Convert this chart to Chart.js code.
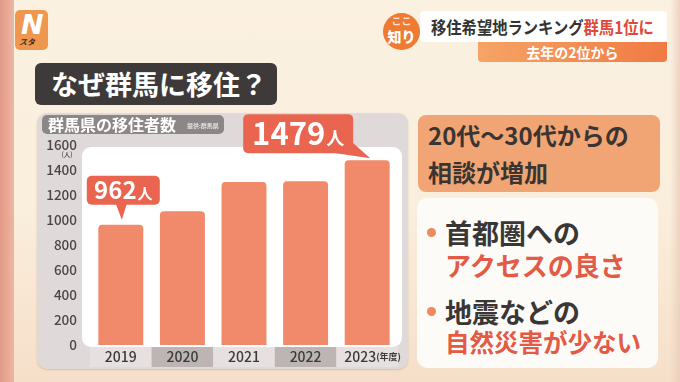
<!DOCTYPE html>
<html lang="ja">
<head>
<meta charset="utf-8">
<script src="https://cdn.jsdelivr.net/npm/chart.js@4/dist/chart.umd.min.js"></script>
<style>
  html,body{margin:0;padding:0;}
  body{width:680px;height:382px;overflow:hidden;font-family:"Noto Sans CJK JP","Noto Sans",sans-serif;}
  #stage{position:relative;width:680px;height:382px;overflow:hidden;
    background:linear-gradient(180deg,#fbf1e1 0%,#faeedc 55%,#f6dfc9 100%);}
  .abs{position:absolute;}
  #strip{left:0;top:0;width:14px;height:382px;background:linear-gradient(90deg,#e29a87,#eeb6a2);}
  #rstrip{right:0;top:0;width:10px;height:382px;background:linear-gradient(90deg,rgba(235,210,190,0),rgba(232,205,185,.8));}
  #logo{left:15px;top:10px;width:33px;height:40px;background:#f0974f;border-radius:5px;}
  #logo .n{position:absolute;left:6px;top:-1px;color:#fff;font:italic 900 27px "DejaVu Sans",sans-serif;}
  #logo .s{position:absolute;left:4px;top:26px;color:#3a2a1e;font:italic 700 8px "Noto Sans CJK JP";}
  #koko{left:383px;top:13px;width:37px;height:37px;border-radius:50%;background:#ee7a33;color:#fff;text-align:center;}
  #koko .a{position:absolute;left:0;width:37px;top:2px;font:700 10px/12px "Noto Sans CJK JP";color:#fde3cf;}
  #koko .b{position:absolute;left:0;width:37px;top:14px;font:900 14px/18px "Noto Sans CJK JP";}
  #hdr{left:420px;top:11px;width:247px;height:31px;background:#fff;border-radius:4px;}
  #hdr .t{position:absolute;left:11px;top:0;white-space:nowrap;font:700 17px/31px "Noto Sans CJK JP";color:#333;transform:scaleX(.9);transform-origin:left center;}
  #hdr .r{color:#e0483a;}
  #sub{left:478px;top:42px;width:189px;height:20px;background:linear-gradient(90deg,#f6a465,#f07a43);border-radius:0 0 4px 4px;color:#fff;text-align:center;font:700 14px/20px "Noto Sans CJK JP";}
  #head{left:35px;top:63px;width:242px;height:42px;background:#3d3a39;border-radius:6px;color:#fff;font:700 27px/42px "Noto Sans CJK JP";padding-left:16px;box-sizing:border-box;white-space:nowrap;}
  #panel{left:37px;top:113px;width:371px;height:256px;background:#dfdad9;border-radius:10px;box-shadow:0 1px 2px rgba(120,90,80,.25);}
  #panel canvas{position:absolute;left:0;top:0;}
  #tag{left:42px;top:115px;width:182px;height:19px;background:#8d8687;border-radius:5px;color:#fff;white-space:nowrap;}
  #tag .t{position:absolute;left:6px;top:0;font:700 16px/19px "Noto Sans CJK JP";}
  #tag .s{position:absolute;left:145px;top:1px;font:500 6px/19px "Noto Sans CJK JP";color:#eee;}
  #box1{left:418px;top:115px;width:242px;height:77px;background:#f2a574;border-radius:8px;}
  #box1 div{position:absolute;left:10px;white-space:nowrap;font:700 24px/30px "Noto Sans CJK JP";color:#3a3532;}
  #box2{left:417px;top:198px;width:241px;height:170px;background:#fdfbf8;border-radius:10px;}
  .ln{position:absolute;white-space:nowrap;font:700 27px/30px "Noto Sans CJK JP";}
  .dk{color:#3a3636;} .rd{color:#e35a46;}
  .dot{position:absolute;width:9px;height:9px;border-radius:50%;background:#ef8a60;}
</style>
</head>
<body>
<div id="stage">
  <div id="strip" class="abs"></div>
  <div id="rstrip" class="abs"></div>
  <div id="logo" class="abs"><span class="n">N</span><span class="s">スタ</span></div>
  <div id="koko" class="abs"><div class="a">ここ</div><div class="b">知り</div></div>
  <div id="hdr" class="abs"><div class="t">移住希望地ランキング<span class="r">群馬1位に</span></div></div>
  <div id="sub" class="abs">去年の2位から</div>
  <div id="head" class="abs">なぜ群馬に移住？</div>
  <div id="panel" class="abs"><canvas id="c" width="371" height="256"></canvas></div>
  <div id="tag" class="abs"><span class="t">群馬県の移住者数</span><span class="s">提供:群馬県</span></div>
  <div id="box1" class="abs"><div style="top:5px">20代〜30代からの</div><div style="top:42px">相談が増加</div></div>
  <div id="box2" class="abs">
    <div class="dot" style="left:10px;top:30px"></div>
    <div class="ln dk" style="left:28px;top:20px">首都圏への</div>
    <div class="ln rd" style="left:28px;top:52px;font-size:26px">アクセスの良さ</div>
    <div class="dot" style="left:10px;top:109px"></div>
    <div class="ln dk" style="left:28px;top:99px">地震などの</div>
    <div class="ln rd" style="left:28px;top:129px;font-size:24.5px">自然災害が少ない</div>
  </div>
</div>
<script>
// ---- data ----
const years = ['2019', '2020', '2021', '2022', '2023'];
const movers = [962, 1070, 1304, 1310, 1479];
const yMin = 0;
const yMax = 1600;
const yStep = 200;
const valueUnit = '人';
const yAxisUnit = '(人)';
const yearUnit = '(年度)';
const calloutIndices = [0, 4];

const FONT = '"Noto Sans CJK JP","Noto Sans",sans-serif';

function drawCallout(ctx, box, tri, num, unit, numSize, unitSize) {
  ctx.save();
  ctx.fillStyle = '#e9654f';
  ctx.beginPath();
  ctx.roundRect(box.x, box.y, box.w, box.h, 5);
  ctx.fill();
  ctx.beginPath();
  ctx.moveTo(tri[0][0], tri[0][1]);
  ctx.lineTo(tri[1][0], tri[1][1]);
  ctx.lineTo(tri[2][0], tri[2][1]);
  ctx.closePath();
  ctx.fill();
  ctx.fillStyle = '#ffffff';
  ctx.textBaseline = 'alphabetic';
  ctx.font = `700 ${numSize}px ${FONT}`;
  const wn = ctx.measureText(num).width;
  ctx.font = `700 ${unitSize}px ${FONT}`;
  const wu = ctx.measureText(unit).width;
  const sx = box.x + box.w / 2 - (wn + wu + 1) / 2;
  const base = box.y + box.h / 2 + numSize * 0.36;
  ctx.font = `700 ${numSize}px ${FONT}`;
  ctx.fillText(num, sx, base);
  ctx.font = `700 ${unitSize}px ${FONT}`;
  ctx.fillText(unit, sx + wn + 1, base);
  ctx.restore();
}

const panelPlugin = {
  id: 'panelPlugin',
  beforeDraw(chart) {
    const { ctx, chartArea: a, scales: { x } } = chart;
    ctx.save();
    const cw = x.getPixelForValue(1) - x.getPixelForValue(0);
    years.forEach((yr, i) => {
      const cx = x.getPixelForValue(i);
      ctx.fillStyle = i % 2 ? '#bcb5b4' : '#e6e1e0';
      ctx.fillRect(cx - cw / 2, a.bottom + 2, cw, 20);
    });
    ctx.fillStyle = '#ffffff';
    ctx.beginPath();
    ctx.roundRect(a.left - 8, a.top + 2, a.width + 12, a.height, 9);
    ctx.fill();
    ctx.restore();
  },
  afterDatasetsDraw(chart) {
    const { ctx } = chart;
    const meta = chart.getDatasetMeta(0);
    calloutIndices.forEach((i, k) => {
      const bx = meta.data[i].x, by = meta.data[i].y;
      if (k === 0) {
        drawCallout(ctx,
          { x: bx - 34, y: by - 49, w: 73, h: 29 },
          [[bx - 5, by - 21], [bx + 6, by - 21], [bx + 1, by - 5]],
          String(movers[i]), valueUnit, 24, 15);
      } else {
        drawCallout(ctx,
          { x: bx - 124, y: by - 46, w: 110, h: 39 },
          [[bx - 38, by - 8], [bx - 15, by - 18], [bx + 3, by - 2]],
          String(movers[i]), valueUnit, 31, 18);
      }
    });
  },
  afterDraw(chart) {
    const { ctx, chartArea: a, scales: { x, y } } = chart;
    ctx.save();
    ctx.fillStyle = '#4a4645';
    ctx.font = `500 6.5px ${FONT}`;
    ctx.textAlign = 'center';
    ctx.textBaseline = 'middle';
    ctx.fillText(yAxisUnit, 30, y.getPixelForValue(yMax) + 10);
    ctx.font = `700 9px ${FONT}`;
    ctx.textAlign = 'left';
    ctx.fillStyle = '#3a3a3a';
    ctx.fillText(yearUnit, x.getPixelForValue(years.length - 1) + 9, a.bottom + 12);
    ctx.restore();
  }
};

new Chart(document.getElementById('c'), {
  type: 'bar',
  data: {
    labels: years,
    datasets: [{
      data: movers,
      backgroundColor: '#f18a6b',
      borderRadius: { topLeft: 4, topRight: 4, bottomLeft: 0, bottomRight: 0 },
      borderSkipped: false,
      barPercentage: 0.73,
      categoryPercentage: 1
    }]
  },
  options: {
    responsive: false,
    devicePixelRatio: 1,
    animation: false,
    layout: { padding: { top: 32, right: 10, bottom: 2, left: 0 } },
    plugins: { legend: { display: false }, tooltip: { enabled: false } },
    scales: {
      x: {
        grid: { display: false, drawTicks: false },
        border: { display: false },
        ticks: {
          padding: 3,
          color: '#3a3a3a',
          font: { family: FONT, size: 14, weight: '500' },
          callback: (v, i) => i === years.length - 1 ? years[i] + '\u3000' : years[i]
        },
        afterFit: s => { s.height = 22; }
      },
      y: {
        min: yMin, max: yMax,
        grid: { display: false, drawTicks: false },
        border: { display: false },
        ticks: {
          stepSize: yStep,
          padding: 13,
          color: '#4a4645',
          font: { family: FONT, size: 13.5, weight: '500' },
          callback: v => String(v)
        },
        afterFit: s => { s.width = 53; }
      }
    }
  },
  plugins: [panelPlugin]
});
</script>
</body>
</html>
